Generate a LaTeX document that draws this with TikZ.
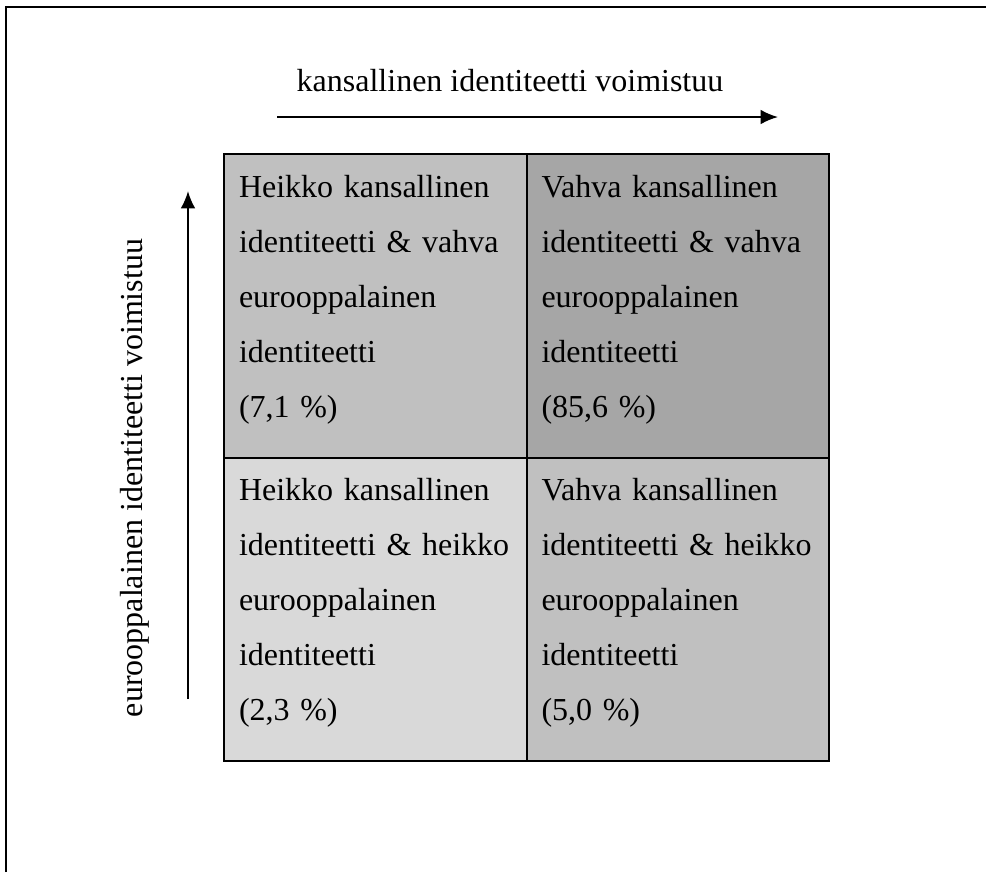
\documentclass[tikz,border=0pt]{standalone}
\usepackage{fontspec}
\setmainfont{Liberation Serif}
\usetikzlibrary{arrows.meta}
\usetikzlibrary{positioning}
\definecolor{cellLight}{HTML}{D9D9D9}
\definecolor{cellMid}{HTML}{C0C0C0}
\definecolor{cellDark}{HTML}{A6A6A6}

\begin{document}
\begin{tikzpicture}[x=0.375pt,y=-0.375pt]
\tikzset{Cell/.style={
  draw=black,
  line width=0.75pt,
  rectangle,
  align=left,
  inner xsep=5.625pt,
  inner ysep=0pt,
  outer sep=0pt,
  text width=102.1875pt,
  text height=16.125pt,
  text depth=97.6875pt,
  font=\fontsize{12}{20.625}\selectfont,
}}
\tikzset{AxisLabel/.style={
  inner sep=0pt,
  font=\fontsize{12}{14}\selectfont,
}}
\tikzset{AxisArrow/.style={
  line width=0.75pt,
  -{Latex[length=6.5pt,width=5.5pt]},
}}

\useasboundingbox (0,0) rectangle (986,872);
\draw[line width=0.55pt] (6,872) -- (6,7) -- (986,7);

\node[Cell, fill=cellMid, anchor=north west] (weakStrong) at (224,154)
  {Heikko kansallinen\\ identiteetti \& vahva\\ eurooppalainen\\ identiteetti\\ (7,1 \%)};
\node[Cell, fill=cellDark, right=0pt of weakStrong] (strongStrong)
  {Vahva kansallinen\\ identiteetti \& vahva\\ eurooppalainen\\ identiteetti\\ (85,6 \%)};
\node[Cell, fill=cellLight, below=0pt of weakStrong] (weakWeak)
  {Heikko kansallinen\\ identiteetti \& heikko\\ eurooppalainen\\ identiteetti\\ (2,3 \%)};
\node[Cell, fill=cellMid, right=0pt of weakWeak] (strongWeak)
  {Vahva kansallinen\\ identiteetti \& heikko\\ eurooppalainen\\ identiteetti\\ (5,0 \%)};

% axes
\node[AxisLabel, anchor=base] (nationalLabel) at (510,91)
  {kansallinen identiteetti voimistuu};
\coordinate (nationalFrom) at (277,117);
\coordinate (nationalTo) at (778,117);
\draw[AxisArrow] (nationalFrom) -- (nationalTo);

\node[AxisLabel, anchor=base, rotate=90] (europeanLabel) at (142,478)
  {eurooppalainen identiteetti voimistuu};
\coordinate (europeanFrom) at (188,699);
\coordinate (europeanTo) at (188,191);
\draw[AxisArrow] (europeanFrom) -- (europeanTo);
\end{tikzpicture}
\end{document}
